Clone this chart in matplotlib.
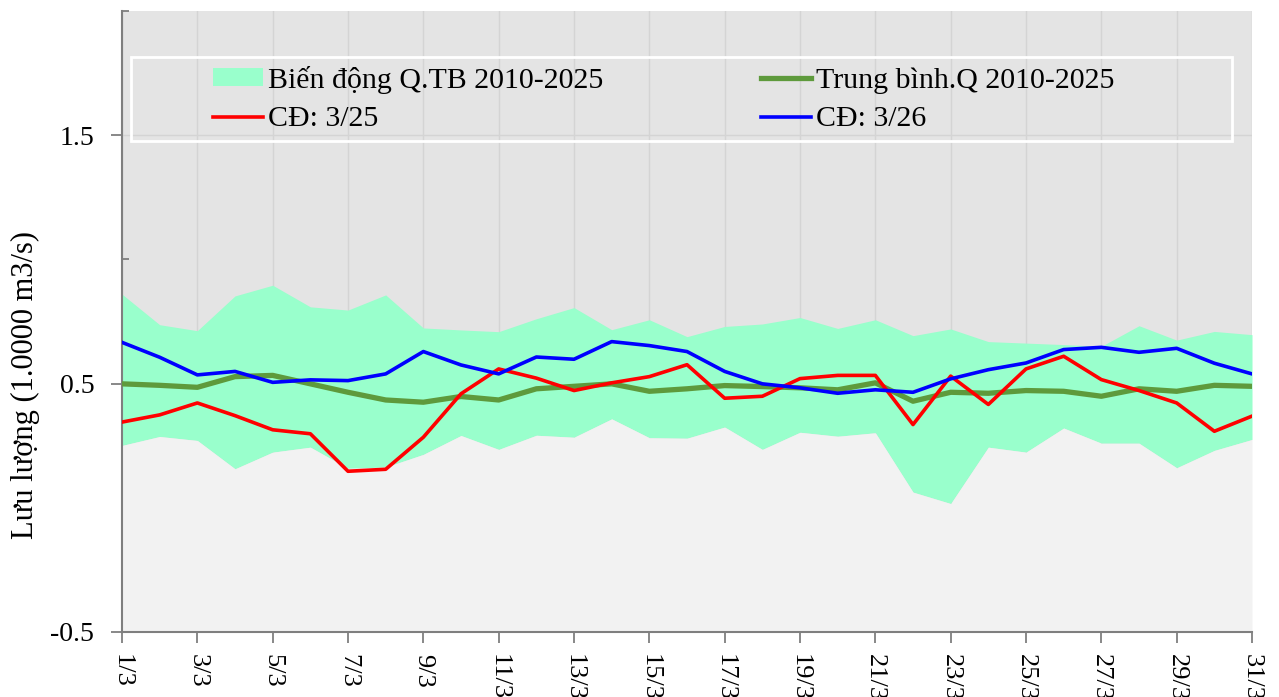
import matplotlib
matplotlib.use("Agg")
import matplotlib.pyplot as plt
from matplotlib.patches import Rectangle
from matplotlib.ticker import FixedLocator, NullFormatter

plt.rcParams['font.family'] = ['Liberation Serif', 'DejaVu Serif']

days = list(range(1, 32))
tick_labels = [f"{d}/3" for d in days]

band_max = [0.860, 0.737, 0.713, 0.853, 0.896, 0.809, 0.796, 0.857, 0.724, 0.716,
            0.709, 0.761, 0.806, 0.717, 0.757, 0.689, 0.730, 0.740, 0.766, 0.722,
            0.757, 0.693, 0.720, 0.669, 0.663, 0.657, 0.650, 0.733, 0.675, 0.710,
            0.697]
band_min = [0.251, 0.287, 0.271, 0.157, 0.224, 0.244, 0.159, 0.164, 0.215, 0.291,
            0.235, 0.292, 0.284, 0.358, 0.282, 0.280, 0.325, 0.235, 0.304, 0.288,
            0.302, 0.063, 0.017, 0.244, 0.224, 0.321, 0.260, 0.260, 0.161, 0.231,
            0.275]
mean_q = [0.499, 0.493, 0.485, 0.528, 0.533, 0.499, 0.465, 0.434, 0.425, 0.448,
          0.434, 0.479, 0.489, 0.499, 0.469, 0.479, 0.492, 0.488, 0.483, 0.475,
          0.503, 0.429, 0.465, 0.461, 0.472, 0.469, 0.449, 0.479, 0.469, 0.493,
          0.489]
cd_3_25 = [0.345, 0.374, 0.422, 0.371, 0.314, 0.298, 0.147, 0.155, 0.284, 0.459,
           0.559, 0.522, 0.472, 0.503, 0.528, 0.576, 0.441, 0.449, 0.520, 0.533,
           0.533, 0.335, 0.530, 0.416, 0.559, 0.610, 0.516, 0.472, 0.422, 0.308,
           0.369]
cd_3_26 = [0.666, 0.606, 0.535, 0.549, 0.505, 0.515, 0.512, 0.539, 0.629, 0.575,
           0.539, 0.607, 0.598, 0.669, 0.653, 0.629, 0.549, 0.499, 0.483, 0.461,
           0.475, 0.465, 0.519, 0.556, 0.583, 0.637, 0.646, 0.626, 0.642, 0.582,
           0.539]

y_min, y_max = -0.5, 2.0

fig = plt.figure(figsize=(12.79, 6.97), dpi=100)
ax = fig.add_axes([0.0954, 0.0933, 0.9789 - 0.0954, 0.9842 - 0.0933])
ax.set_facecolor('#e4e4e4')

h_band = ax.fill_between(days, band_min, band_max, color='#99ffcc', lw=0, zorder=1,
                         label='Biến động Q.TB 2010-2025')
ax.fill_between(days, y_min, band_min, color='#f2f2f2', lw=0, zorder=1)
h_mean, = ax.plot(days, mean_q, color='#5e9a3c', lw=3.8, zorder=3,
                  label='Trung bình.Q 2010-2025')
h_r, = ax.plot(days, cd_3_25, color='#ff0000', lw=2.6, zorder=4, label='CĐ: 3/25')
h_b, = ax.plot(days, cd_3_26, color='#0000ff', lw=2.6, zorder=4, label='CĐ: 3/26')

ax.set_xlim(1, 31)
ax.set_ylim(y_min, y_max)

ax.set_xticks(days[::2])
ax.set_xticklabels(tick_labels[::2], rotation=-90, fontsize=19)
ax.yaxis.set_major_locator(FixedLocator([-0.5, 0.5, 1.5]))
ax.yaxis.set_minor_locator(FixedLocator([0.0, 1.0, 2.0]))
ax.yaxis.set_minor_formatter(NullFormatter())
ax.set_yticklabels(['-0.5', '0.5', '1.5'], fontsize=20)

ax.tick_params(axis='x', which='major', direction='out', length=8, width=1.3,
               color='#7f7f7f', pad=8)
ax.tick_params(axis='y', which='major', direction='out', length=8, width=1.3,
               color='#7f7f7f', pad=12)
ax.tick_params(axis='y', which='minor', direction='in', length=5, width=1.3,
               color='#7f7f7f')

ax.set_axisbelow(True)
ax.grid(True, axis='both', which='major', color='#d4d4d4', lw=1.0)

for s in ['top', 'right']:
    ax.spines[s].set_visible(False)
for s in ['left', 'bottom']:
    ax.spines[s].set_color('#7f7f7f')
    ax.spines[s].set_linewidth(1.5)

ax.set_ylabel('Lưu lượng (1.0000 m3/s)', fontsize=22)
ax.yaxis.set_label_coords(-0.073, 0.398)

# legend box
ax.add_patch(Rectangle((0.008, 0.7907), 0.974, 0.1353, transform=ax.transAxes,
                       facecolor='none', edgecolor='white', lw=2, zorder=5))
leg = ax.legend([h_band, h_r, h_mean, h_b],
                ['Biến động Q.TB 2010-2025', 'CĐ: 3/25',
                 'Trung bình.Q 2010-2025', 'CĐ: 3/26'],
                ncol=2, frameon=False, loc='upper left',
                bbox_to_anchor=(0.0805, 0.912), fontsize=21.5,
                handlelength=1.67, handleheight=0.55, handletextpad=0.17,
                columnspacing=5.3, labelspacing=0.43, borderaxespad=0, borderpad=0)
leg.set_zorder(6)

fig.savefig('out.png', dpi=100)
